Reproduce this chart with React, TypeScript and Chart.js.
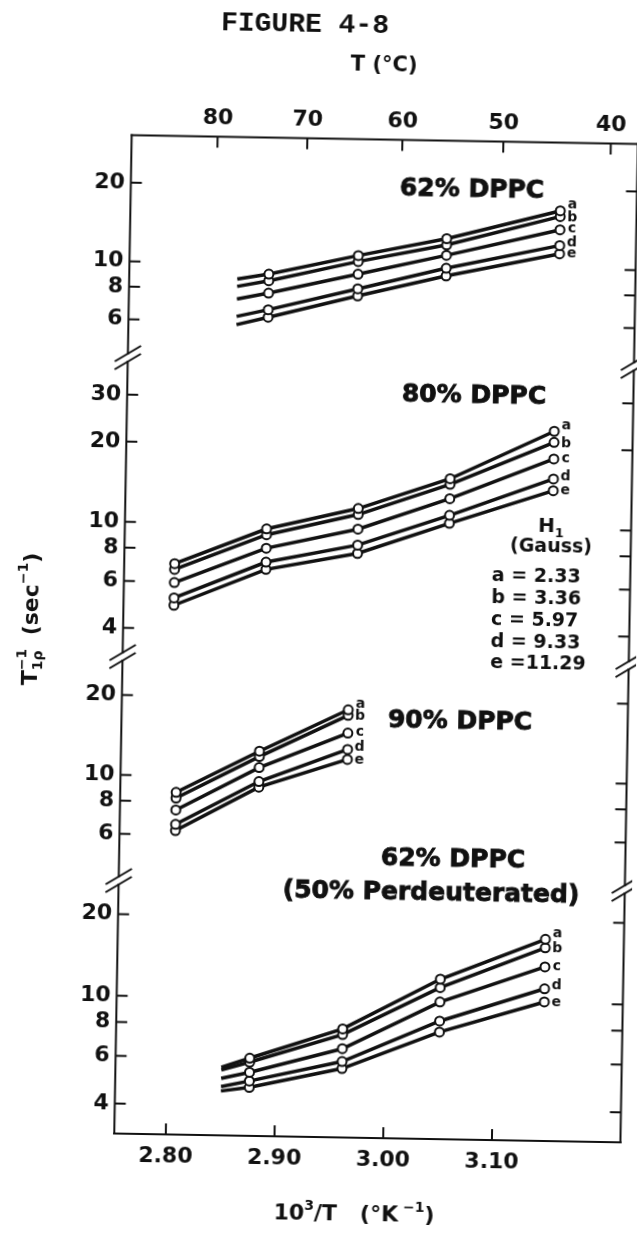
import React, { useEffect, useRef } from 'react';
import { Chart, registerables } from 'chart.js';

Chart.register(...registerables);

// ---------------- data ----------------
const SERIES = ['a', 'b', 'c', 'd', 'e'];
const H1_GAUSS = ['2.33', '3.36', '5.97', '9.33', '11.29'];

const X_TICKS = [2.8, 2.9, 3.0, 3.1];
const T_TICKS_C = [80, 70, 60, 50, 40];
const X_RANGE = [2.7526, 3.2182];

// Panel 1: 62% DPPC
const P1_TITLE = ['62% DPPC'];
const P1_TICKS = [6, 8, 10, 20];
const P1_RANGE = [4.28, 30.4];
const P1_X = [2.881, 2.963, 3.044, 3.148];
const P1_START_X = 2.852;
const P1_START = [8.7, 8.15, 7.29, 6.26, 5.82];
const P1_A = [9.13, 10.9, 12.82, 16.67];
const P1_B = [8.61, 10.34, 12.13, 15.85];
const P1_C = [7.72, 9.25, 11.07, 14.1];
const P1_D = [6.67, 8.13, 9.88, 12.28];
const P1_E = [6.24, 7.64, 9.23, 11.41];

// Panel 2: 80% DPPC
const P2_TITLE = ['80% DPPC'];
const P2_TICKS = [4, 6, 8, 10, 20, 30];
const P2_RANGE = [3.12, 41.3];
const P2_X = [2.799, 2.883, 2.967, 3.051, 3.146];
const P2_A = [7.02, 9.61, 11.62, 15.23, 23.3];
const P2_B = [6.68, 9.13, 11.03, 14.51, 21.18];
const P2_C = [5.96, 8.13, 9.72, 12.82, 18.34];
const P2_D = [5.22, 7.21, 8.47, 11.1, 15.43];
const P2_E = [4.9, 6.77, 7.88, 10.36, 13.95];

// Panel 3: 90% DPPC
const P3_TITLE = ['90% DPPC'];
const P3_TICKS = [6, 8, 10, 20];
const P3_RANGE = [4.0, 27.9];
const P3_X = [2.804, 2.88, 2.961];
const P3_A = [8.67, 12.54, 18.2];
const P3_B = [8.25, 11.97, 17.34];
const P3_C = [7.44, 10.88, 14.87];
const P3_D = [6.57, 9.64, 12.9];
const P3_E = [6.22, 9.18, 11.83];

// Panel 4: 62% DPPC (50% Perdeuterated)
const P4_TITLE = ['62% DPPC', '(50% Perdeuterated)'];
const P4_TICKS = [4, 6, 8, 10, 20];
const P4_RANGE = [3.1, 26.6];
const P4_X = [2.876, 2.961, 3.05, 3.146];
const P4_START_X = 2.85;
const P4_START = [5.53, 5.41, 5.03, 4.69, 4.52];
const P4_A = [6.0, 7.8, 12.07, 17.2];
const P4_B = [5.8, 7.43, 11.24, 16.0];
const P4_C = [5.32, 6.59, 9.94, 13.6];
const P4_D = [4.94, 5.91, 8.45, 11.3];
const P4_E = [4.68, 5.57, 7.7, 10.1];

// ---------------- structure built from data ----------------
const PANELS: any[] = [
  { id: 'p1', title: P1_TITLE, ticks: P1_TICKS, range: P1_RANGE, xs: P1_X, startX: P1_START_X, start: P1_START, series: [P1_A, P1_B, P1_C, P1_D, P1_E] },
  { id: 'p2', title: P2_TITLE, ticks: P2_TICKS, range: P2_RANGE, xs: P2_X, startX: null, start: null, series: [P2_A, P2_B, P2_C, P2_D, P2_E] },
  { id: 'p3', title: P3_TITLE, ticks: P3_TICKS, range: P3_RANGE, xs: P3_X, startX: null, start: null, series: [P3_A, P3_B, P3_C, P3_D, P3_E] },
  { id: 'p4', title: P4_TITLE, ticks: P4_TICKS, range: P4_RANGE, xs: P4_X, startX: P4_START_X, start: P4_START, series: [P4_A, P4_B, P4_C, P4_D, P4_E] },
];

// ---------------- layout / style ----------------
const INK = '#111111';
const FAMILY = '"DejaVu Sans", sans-serif';
const FRAME = { left: 123.3, right: 629.5, top: 138.5, bottom: 1137 };
const TICK_LEN = 11;
const BREAK_GAP = 4;
const TICK_FONT = { family: FAMILY, size: 22, weight: 'bold' as const };

const PANEL_LAYOUT = [
  { weight: 222.5, titlePos: [[464.5, 187.4]] },
  { weight: 299, titlePos: [[470.1, 393.3]] },
  { weight: 224, titlePos: [[461.8, 719.5]] },
  { weight: 253, titlePos: [[457.2, 857.7], [435.8, 891]] },
];
const LETTER_DX = 12;
const LETTER_DY = [-6, 1, -1, -3, 0];

const MARKER_SETS: { idx: number; series: number }[] = [];

function buildDatasets() {
  const ds: any[] = [];
  PANELS.forEach((p) => {
    p.series.forEach((vals: number[], si: number) => {
      const pts = p.xs.map((x: number, k: number) => ({ x, y: vals[k] }));
      const linePts = p.start ? [{ x: p.startX, y: p.start[si] }, ...pts] : pts;
      ds.push({
        label: `${p.id}-${SERIES[si]}-line`,
        data: linePts,
        xAxisID: 'x',
        yAxisID: p.id,
        showLine: true,
        borderColor: INK,
        borderWidth: 3.5,
        pointRadius: 0,
        pointHoverRadius: 0,
        fill: false,
        tension: 0,
        order: 2,
      });
      MARKER_SETS.push({ idx: ds.length, series: si });
      ds.push({
        label: `${p.id}-${SERIES[si]}`,
        data: pts,
        xAxisID: 'x',
        yAxisID: p.id,
        showLine: false,
        pointRadius: 4.5,
        pointHoverRadius: 4.5,
        pointBorderWidth: 2,
        pointBackgroundColor: '#ffffff',
        pointBorderColor: INK,
        order: 1,
      });
    });
  });
  return ds;
}

function buildScales() {
  const scales: any = {
    x: {
      type: 'linear',
      position: 'bottom',
      min: X_RANGE[0],
      max: X_RANGE[1],
      afterBuildTicks: (s: any) => {
        s.ticks = X_TICKS.map((v) => ({ value: v }));
      },
      afterFit: (s: any) => {
        s.height = 1236 - FRAME.bottom;
      },
      grid: { display: false, drawTicks: false },
      border: { display: false },
      ticks: {
        autoSkip: false,
        maxRotation: 0,
        padding: 9,
        color: INK,
        font: TICK_FONT,
        callback: (v: any) => Number(v).toFixed(2),
      },
    },
    xTop: {
      type: 'linear',
      position: 'top',
      min: X_RANGE[0],
      max: X_RANGE[1],
      afterBuildTicks: (s: any) => {
        s.ticks = T_TICKS_C.map((t) => ({ value: 1000 / (t + 273.15) }));
      },
      afterFit: (s: any) => {
        s.height = FRAME.top;
      },
      grid: { display: false, drawTicks: false },
      border: { display: false },
      ticks: {
        autoSkip: false,
        maxRotation: 0,
        padding: 5,
        color: INK,
        font: TICK_FONT,
        callback: (v: any) => String(Math.round(1000 / Number(v) - 273.15)),
      },
    },
  };
  PANELS.forEach((p, i) => {
    scales[p.id] = {
      type: 'logarithmic',
      position: 'left',
      stack: 'ystack',
      stackWeight: PANEL_LAYOUT[i].weight,
      weight: PANELS.length - i,
      min: p.range[0],
      max: p.range[1],
      afterBuildTicks: (s: any) => {
        s.ticks = p.ticks.map((v: number) => ({ value: v }));
      },
      afterFit: (s: any) => {
        s.width = FRAME.left;
      },
      grid: { display: false, drawTicks: false },
      border: { display: false },
      ticks: {
        autoSkip: false,
        padding: 6,
        color: INK,
        font: TICK_FONT,
        callback: (v: any) => String(v),
      },
    };
  });
  return scales;
}

type Part = { t: string; size: number; dy?: number; adv?: boolean };

function drawRich(ctx: CanvasRenderingContext2D, parts: Part[], cx: number, baseY: number, weight = 'bold') {
  const widths = parts.map((p) => {
    ctx.font = `${weight} ${p.size}px ${FAMILY}`;
    return ctx.measureText(p.t).width;
  });
  let w = 0;
  parts.forEach((p, i) => {
    if (p.adv !== false) w += widths[i];
  });
  let x = cx - w / 2;
  ctx.textAlign = 'left';
  ctx.textBaseline = 'alphabetic';
  parts.forEach((p, i) => {
    ctx.font = `${weight} ${p.size}px ${FAMILY}`;
    ctx.fillText(p.t, x, baseY + (p.dy || 0));
    if (p.adv !== false) x += widths[i];
  });
}

const decorPlugin = {
  id: 'decor',
  afterDraw(chart: any) {
    const ctx: CanvasRenderingContext2D = chart.ctx;
    const ca = chart.chartArea;
    const xs = chart.scales.x;
    const xt = chart.scales.xTop;
    const ys = PANELS.map((p) => chart.scales[p.id]);
    ctx.save();
    ctx.strokeStyle = INK;
    ctx.fillStyle = INK;
    ctx.lineWidth = 2;
    ctx.lineCap = 'square';
    const seg = (x1: number, y1: number, x2: number, y2: number) => {
      ctx.beginPath();
      ctx.moveTo(x1, y1);
      ctx.lineTo(x2, y2);
      ctx.stroke();
    };
    // frame
    seg(ca.left, ca.top, ca.right, ca.top);
    seg(ca.left, ca.bottom, ca.right, ca.bottom);
    ys.forEach((s: any, i: number) => {
      const t = i === 0 ? ca.top : s.top + BREAK_GAP;
      const b = i === ys.length - 1 ? ca.bottom : s.bottom - BREAK_GAP;
      seg(ca.left, t, ca.left, b);
      seg(ca.right, t, ca.right, b);
    });
    // axis breaks
    ctx.lineCap = 'butt';
    ys.slice(1).forEach((s: any) => {
      [ca.left, ca.right].forEach((x: number) => {
        [-BREAK_GAP, BREAK_GAP].forEach((d) => seg(x - 13, s.top + d + 8, x + 13, s.top + d - 8));
      });
    });
    // inward ticks
    ys.forEach((s: any) =>
      s.ticks.forEach((tk: any) => {
        const y = s.getPixelForValue(tk.value);
        seg(ca.left, y, ca.left + TICK_LEN, y);
        seg(ca.right, y, ca.right - TICK_LEN, y);
      })
    );
    xs.ticks.forEach((tk: any) => {
      const x = xs.getPixelForValue(tk.value);
      seg(x, ca.bottom, x, ca.bottom - TICK_LEN);
    });
    xt.ticks.forEach((tk: any) => {
      const x = xt.getPixelForValue(tk.value);
      seg(x, ca.top, x, ca.top + TICK_LEN);
    });

    // figure label
    ctx.textAlign = 'center';
    ctx.textBaseline = 'middle';
    ctx.font = 'bold 28px "Liberation Mono", monospace';
    ctx.fillText('FIGURE 4-8', 294.7, 25);
    // top axis title
    ctx.font = `bold 21px ${FAMILY}`;
    ctx.fillText('T (°C)', 374.4, 65);

    // bottom axis title
    drawRich(ctx, [
      { t: '10', size: 22 },
      { t: '3', size: 14, dy: -10 },
      { t: '/T   (°K', size: 22 },
      { t: ' −1', size: 14, dy: -10 },
      { t: ')', size: 22 },
    ], 364.4, 1220);

    // y axis title
    ctx.save();
    ctx.translate(30, 624);
    ctx.rotate(-Math.PI / 2);
    drawRich(ctx, [
      { t: 'T', size: 22 },
      { t: '−1', size: 14, dy: -11, adv: false },
      { t: '1ρ', size: 14, dy: 5 },
      { t: '  (sec', size: 22 },
      { t: '−1', size: 14, dy: -11 },
      { t: ')', size: 22 },
    ], 0, 8);
    ctx.restore();

    // panel titles
    ctx.textAlign = 'center';
    ctx.textBaseline = 'middle';
    ctx.font = `bold 25px ${FAMILY}`;
    ctx.lineWidth = 0.9;
    PANELS.forEach((p, i) => {
      p.title.forEach((line: string, k: number) => {
        const [x, y] = PANEL_LAYOUT[i].titlePos[k];
        ctx.fillText(line, x, y);
        ctx.strokeText(line, x, y);
      });
    });

    // series letters at the last marker
    ctx.font = `bold 14px ${FAMILY}`;
    ctx.textAlign = 'center';
    ctx.textBaseline = 'middle';
    MARKER_SETS.forEach((m) => {
      const meta = chart.getDatasetMeta(m.idx);
      const last = meta.data[meta.data.length - 1];
      if (!last) return;
      ctx.fillText(SERIES[m.series], last.x + LETTER_DX, last.y + LETTER_DY[m.series]);
    });

    // H1 legend
    ctx.textBaseline = 'alphabetic';
    drawRich(ctx, [
      { t: 'H', size: 20 },
      { t: '1', size: 13, dy: 5 },
    ], 549.4, 528);
    ctx.textAlign = 'center';
    ctx.textBaseline = 'middle';
    ctx.font = `bold 19px ${FAMILY}`;
    ctx.fillText('(Gauss)', 549.8, 543);
    ctx.textAlign = 'left';
    const rows = [573, 595.5, 617.5, 639.5, 660.5];
    SERIES.forEach((s, i) => {
      const v = H1_GAUSS[i];
      ctx.fillText(`${s} =${v.length < 5 ? ' ' : ''}${v}`, 491, rows[i]);
    });
    ctx.restore();
  },
};

export default function App() {
  const ref = useRef<HTMLCanvasElement>(null);
  useEffect(() => {
    const canvas = ref.current;
    if (!canvas) return;
    MARKER_SETS.length = 0;
    const chart = new Chart(canvas, {
      type: 'line',
      data: { datasets: buildDatasets() },
      options: {
        responsive: false,
        animation: false,
        devicePixelRatio: 1,
        events: [],
        layout: { padding: { left: 0, right: 637 - FRAME.right, top: 0, bottom: 0 } },
        plugins: {
          legend: { display: false },
          tooltip: { enabled: false },
          title: { display: false },
        },
        scales: buildScales(),
      },
      plugins: [decorPlugin],
    } as any);
    return () => chart.destroy();
  }, []);
  return (
    <div
      style={{
        position: 'fixed',
        left: 0,
        top: 0,
        width: 637,
        height: 1236,
        overflow: 'hidden',
        background: '#ffffff',
      }}
    >
      <canvas
        ref={ref}
        width={637}
        height={1236}
        style={{
          display: 'block',
          width: 637,
          height: 1236,
          transform: 'rotate(1deg)',
          transformOrigin: '318.5px 618px',
        }}
      />
    </div>
  );
}
